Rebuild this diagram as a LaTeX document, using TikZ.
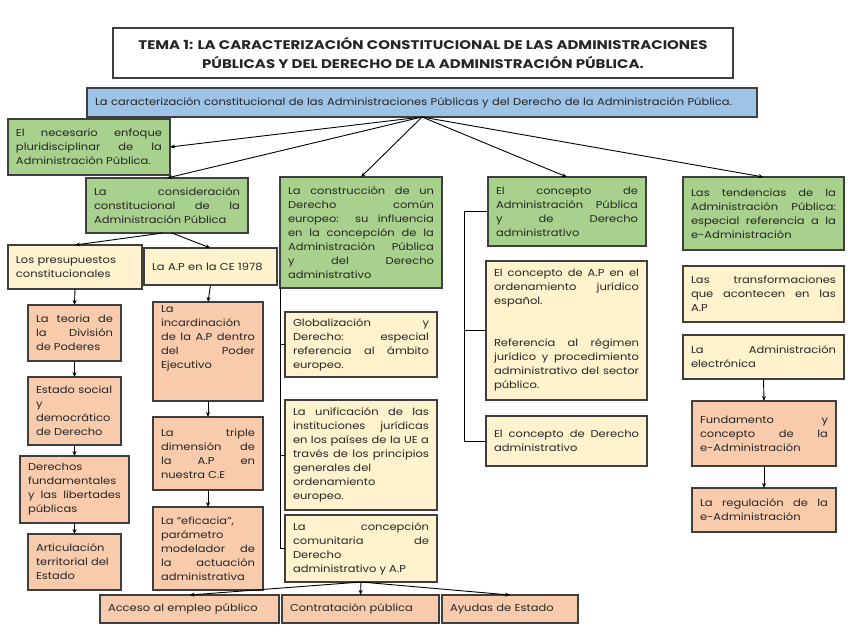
\documentclass[tikz,border=0pt]{standalone}
\usepackage{fontspec}
\setmainfont[FakeStretch=1.15]{Poppins}
\newfontfamily\titlefont[FakeStretch=1.2]{Poppins}
\usetikzlibrary{arrows.meta,calc}
\definecolor{bordc}{HTML}{3F3F3F}
\definecolor{blueF}{HTML}{9DC3E6}
\definecolor{greenF}{HTML}{A9D18E}
\definecolor{yelF}{HTML}{FFF2CC}
\definecolor{oraF}{HTML}{F8CBAD}
\definecolor{txtc}{HTML}{262626}
\newcommand\boxfont{\fontsize{10}{14}\selectfont\tolerance=10000\hyphenpenalty=10000\exhyphenpenalty=10000}
\tikzset{
 boxbase/.style={draw=bordc, line width=1.2pt, inner sep=0pt, outer sep=0pt, rectangle},
 bluebox/.style={boxbase, fill=blueF},
 greenbox/.style={boxbase, fill=greenF},
 yelbox/.style={boxbase, fill=yelF},
 orabox/.style={boxbase, fill=oraF},
 titlebox/.style={boxbase, fill=white},
 txt/.style={inner sep=0pt, align=justify, text=txtc, font=\boxfont},
 conn/.style={line width=0.9pt, draw=black},
 arr/.style={conn, -{Stealth[length=5pt,width=4pt]}},
}
\newcommand\mybx[8][]{%
 \pgfmathsetmacro\bxw{#6-#4}%
 \pgfmathsetmacro\bxh{#7-#5}%
 \pgfmathsetmacro\bxt{#6-#4-16}%
 \node[#3, minimum width=\bxw pt, minimum height=\bxh pt, anchor=north west] (#2) at (#4,#5) {};
 \node[txt, text width=\bxt pt, #1] (#2t) at (#2.center) {#8};
}
\begin{document}
\begin{tikzpicture}[x=1pt,y=-1pt]
\useasboundingbox (0,0) rectangle (848,635);
% title
\node[titlebox, minimum width=620pt, minimum height=50pt, anchor=north west] (title) at (113,28) {};
\node[inner sep=0pt, align=center, text=txtc, font=\titlefont\fontsize{12.5}{19}\selectfont\bfseries] (titlet) at (title.center)
 {TEMA 1: LA CARACTERIZACIÓN CONSTITUCIONAL DE LAS ADMINISTRACIONES\\PÚBLICAS Y DEL DERECHO DE LA ADMINISTRACIÓN PÚBLICA.};
% main blue
\mybx[align=left]{blue}{bluebox}{87}{88}{757}{117}{La caracterización constitucional de las Administraciones Públicas y del Derecho de la Administración Pública.}
% green level
\mybx{g1}{greenbox}{8}{119}{170}{175}{El necesario enfoque\linebreak pluridisciplinar de la\linebreak Administración Pública.}
\mybx{g2}{greenbox}{86}{178}{248}{233}{La consideración\linebreak constitucional de la\linebreak Administración Pública}
\mybx{g3}{greenbox}{280}{177}{442}{288}{La construcción de un\linebreak Derecho común\linebreak europeo: su influencia\linebreak en la concepción de la\linebreak Administración Pública\linebreak y del Derecho\linebreak administrativo}
\mybx{g4}{greenbox}{488}{177}{646}{246}{El concepto de\linebreak Administración Pública\linebreak y de Derecho\linebreak administrativo}
\mybx{g5}{greenbox}{683}{177}{844}{250}{Las tendencias de la\linebreak Administración Pública:\linebreak especial referencia a la\linebreak e-Administración}
% left column
\mybx[align=left]{pres}{yelbox}{8}{245}{142}{289}{Los presupuestos\\constitucionales}
\mybx[align=left]{ce}{yelbox}{144}{248}{277}{285}{La A.P en la CE 1978}
\mybx{teoria}{orabox}{28}{305}{121}{361}{La teoria de\linebreak la División\linebreak de Poderes}
\mybx[align=left]{estado}{orabox}{28}{377}{121}{445}{Estado social\\y\\democrático\\de Derecho}
\mybx{derechos}{orabox}{20}{456}{129}{523}{Derechos\\fundamentales\\y las libertades\linebreak públicas}
\mybx{artic}{orabox}{28}{534}{121}{590}{Articulación\\territorial del\\Estado}
\mybx{incard}{orabox}{153}{302}{263}{401}{La\\incardinación\\de la A.P dentro\linebreak del Poder\linebreak Ejecutivo\\[14pt]}
\mybx{triple}{orabox}{153}{417}{263}{490}{La triple\linebreak dimensión de\linebreak la A.P en\linebreak nuestra C.E}
\mybx{efic}{orabox}{153}{507}{263}{590}{La “eficacia”,\\parámetro\\modelador de\linebreak la actuación\linebreak administrativa}
% middle column
\mybx{glob}{yelbox}{285}{312}{437}{377}{Globalización y\linebreak Derecho: especial\linebreak referencia al ámbito\linebreak europeo.}
\mybx{unif}{yelbox}{285}{400}{437}{510}{La unificación de las\linebreak instituciones jurídicas\linebreak en los países de la UE a\linebreak través de los principios\linebreak generales del\\ordenamiento\\europeo.}
\mybx{concep}{yelbox}{285}{515}{437}{582}{La concepción\linebreak comunitaria de\linebreak Derecho\\administrativo y A.P}
\mybx[align=left]{acceso}{orabox}{100}{595}{279}{623}{Acceso al empleo público}
\mybx[align=left]{contr}{orabox}{282}{595}{439}{623}{Contratación pública}
\mybx[align=left]{ayudas}{orabox}{442}{595}{578}{623}{Ayudas de Estado}
% right-middle column
\mybx{bigy}{yelbox}{486}{261}{647}{400}{El concepto de A.P en el\linebreak ordenamiento jurídico\linebreak español.\\[28pt]Referencia al régimen\linebreak jurídico y procedimiento\linebreak administrativo del sector\linebreak público.}
\mybx{dadm}{yelbox}{486}{416}{647}{466}{El concepto de Derecho\linebreak administrativo}
% right column
\mybx{transf}{yelbox}{683}{266}{844}{322}{Las transformaciones\linebreak que acontecen en las\linebreak A.P}
\mybx{aelec}{yelbox}{683}{335}{844}{379}{La Administración\linebreak electrónica}
\mybx{fund}{orabox}{692}{401}{836}{466}{Fundamento y\linebreak concepto de la\linebreak e-Administración}
\mybx{regul}{orabox}{692}{488}{836}{532}{La regulación de la\linebreak e-Administración}
% connectors from the main box
\draw[arr] (blue.south) -- (g1.east);
\draw[arr] (blue.south) -- (g2.north);
\draw[arr] (blue.south) -- (g3.north);
\draw[arr] (blue.south) -- (g4.north);
\draw[arr] (blue.south) -- (g5.north);
% left branches
\draw[arr] ([xshift=-4pt]g2.south) -- (pres.north);
\draw[arr] ([xshift=5pt]g2.south) -- (ce.north);
\draw[arr] (pres.south) -- (teoria.north);
\draw[arr] (teoria.south) -- (estado.north);
\draw[arr] (estado.south) -- (derechos.north);
\draw[arr] (derechos.south) -- (artic.north);
\draw[arr] (ce.south) -- (incard.north);
\draw[arr] (incard.south) -- (triple.north);
\draw[arr] (triple.south) -- (efic.north);
% middle bracket
\draw[conn] (g3.south west) -- (g3.south west |- concep.west) -- (concep.west);
\draw[conn] (g3.south west |- glob.west) -- (glob.west);
\draw[conn] (g3.south west |- unif.west) -- (unif.west);
\draw[arr] (concep.south) -- (acceso.north);
\draw[arr] (concep.south) -- (contr.north);
\draw[arr] (concep.south) -- (ayudas.north);
% right-middle bracket
\coordinate (g4j) at ($(g4.west)+(-24,0)$);
\draw[conn] (g4.west) -- (g4j) -- (g4j |- dadm.west) -- (dadm.west);
\draw[conn] (g4j |- bigy.west) -- (bigy.west);
% right column
\draw[arr] (aelec.south) -- (fund.north);
\draw[arr] (fund.south) -- (regul.north);
\end{tikzpicture}
\end{document}
